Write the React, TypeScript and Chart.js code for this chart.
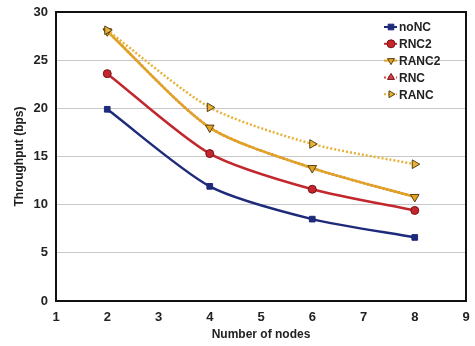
import React, { useEffect, useRef } from "react";
import { Chart, registerables } from "chart.js";
import { drawPoint } from "chart.js/helpers";
Chart.register(...registerables);

const xValues = [2, 4, 6, 8];
const noNC = [19.9, 11.9, 8.5, 6.6];
const RNC2 = [23.6, 15.3, 11.6, 9.4];
const RANC2 = [28.0, 18.0, 13.8, 10.8];
const RNC = [28.0, 18.0, 13.8, 10.8];
const RANC = [28.1, 20.1, 16.3, 14.2];
const yTicks = [0, 5, 10, 15, 20, 25, 30];
const xTicks = [1, 2, 3, 4, 5, 6, 7, 8, 9];

const FONT = "Liberation Sans, Arial, sans-serif";

const framePlugin = {
  id: "frame",
  afterDraw(chart: any) {
    const ctx = chart.ctx;
    const a = chart.chartArea;
    ctx.save();
    ctx.strokeStyle = "#111";
    ctx.lineWidth = 2;
    ctx.strokeRect(a.left, a.top, a.right - a.left, a.bottom - a.top);
    ctx.restore();
  },
};

const legendPlugin = {
  id: "insideLegend",
  afterDatasetsDraw(chart: any) {
    const ctx = chart.ctx;
    const area = chart.chartArea;
    const x0 = area.right - 82;
    let y = area.top + 15;
    ctx.save();
    chart.data.datasets.forEach((ds: any) => {
      ctx.strokeStyle = ds.borderColor;
      ctx.lineWidth = 2;
      ctx.setLineDash(ds.borderDash || []);
      ctx.beginPath();
      ctx.moveTo(x0, y);
      ctx.lineTo(x0 + 13, y);
      ctx.stroke();
      ctx.setLineDash([]);
      ctx.fillStyle = ds.pointBackgroundColor;
      ctx.strokeStyle = ds.pointBorderColor;
      ctx.lineWidth = 1;
      drawPoint(
        ctx,
        {
          pointStyle: ds.pointStyle,
          rotation: ds.pointRotation || 0,
          radius: 4,
          borderWidth: 1,
        } as any,
        x0 + 7,
        y
      );
      ctx.fillStyle = "#222";
      ctx.font = "bold 12px " + FONT;
      ctx.textBaseline = "middle";
      ctx.fillText(ds.label, x0 + 15, y + 1);
      y += 16.8;
    });
    ctx.restore();
  },
};

export default function App() {
  const ref = useRef<HTMLCanvasElement>(null);
  useEffect(() => {
    document.body.style.margin = "0";
    const mk = (label: string, data: number[], color: string, style: string, rot: number, dash: number[], edge: string, order: number, r: number) => ({
      label,
      data: data.map((v, i) => ({ x: xValues[i], y: v })),
      borderColor: color,
      backgroundColor: color,
      pointBackgroundColor: color,
      pointBorderColor: edge,
      pointBorderWidth: 1,
      pointStyle: style,
      pointRotation: rot,
      pointRadius: r,
      borderWidth: 2.5,
      borderDash: dash,
      tension: 0.25,
      fill: false,
      order,
    });
    const datasets: any[] = [
      mk("noNC", noNC, "#1e2a7a", "rect", 0, [], "#1e2a7a", 0, 4),
      mk("RNC2", RNC2, "#c1272d", "circle", 0, [], "#7a1015", 1, 4),
      mk("RANC2", RANC2, "#e0a323", "triangle", 180, [], "#5a4010", 2, 5),
      mk("RNC", RNC, "#d8454a", "triangle", 0, [2, 2], "#7a1015", 3, 0),
      mk("RANC", RANC, "#e6b33a", "triangle", 90, [2, 2], "#5a4010", 1, 5),
    ];
    const chart = new Chart(ref.current!, {
      type: "line",
      data: { datasets },
      plugins: [legendPlugin, framePlugin],
      options: {
        animation: false,
        responsive: false,
        layout: { padding: { top: 12, right: 9, left: 0, bottom: 0 } },
        plugins: { legend: { display: false }, tooltip: { enabled: false } },
        scales: {
          x: {
            type: "linear",
            min: 1,
            max: 9,
            afterBuildTicks: (s: any) => { s.ticks = xTicks.map((v) => ({ value: v })); },
            afterFit: (s: any) => { s.height = 45; s.paddingRight = 4; s.paddingLeft = 4; },
            grid: { display: false, drawTicks: false },
            border: { color: "#111", width: 2 },
            ticks: { color: "#222", font: { family: FONT, size: 13, weight: "bold" }, padding: 9 },
            title: { display: true, text: "Number of nodes", color: "#222", font: { family: FONT, size: 12, weight: "bold" }, padding: { top: 5 } },
          },
          y: {
            min: 0,
            max: 30,
            afterBuildTicks: (s: any) => { s.ticks = yTicks.map((v) => ({ value: v })); },
            afterFit: (s: any) => { s.width = 56; s.paddingTop = 6; s.paddingBottom = 6; },
            grid: { color: "#c8c8c8", drawTicks: false },
            border: { color: "#111", width: 2 },
            ticks: { color: "#222", font: { family: FONT, size: 13, weight: "bold" }, padding: 8 },
            title: { display: true, text: "Throughput (bps)", color: "#222", font: { family: FONT, size: 12, weight: "bold" }, padding: { top: 12, bottom: 0 } },
          },
        },
      },
    } as any);
    return () => chart.destroy();
  }, []);
  return (
    <div style={{ width: 475, height: 346, position: "relative" }}>
      <canvas ref={ref} width={475} height={346} style={{ display: "block" }} />
    </div>
  );
}
